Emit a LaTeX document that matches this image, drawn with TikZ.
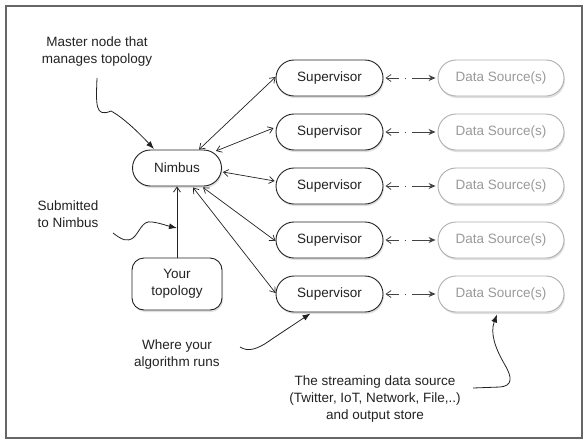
\documentclass[tikz,border=0pt]{standalone}
\usepackage{fontspec}
\setmainfont{Liberation Sans}
\usetikzlibrary{arrows.meta,calc,shadows}
\definecolor{ink}{HTML}{222222}
\definecolor{faint}{HTML}{9A9A9A}
\definecolor{faintline}{HTML}{AEAEAE}
\tikzset{
  txt/.style={font=\fontsize{13.5}{17}\selectfont, text=ink, align=center},
  shad/.style={drop shadow={shadow xshift=1pt, shadow yshift=-2pt, fill=black!30, opacity=0.4}},
  pill/.style={txt, draw=ink, line width=0.9pt, fill=white, rounded corners=18pt,
    minimum height=36pt, inner sep=0pt, shad},
  supbox/.style={pill, minimum width=107pt},
  dsbox/.style={pill, draw=faintline, text=faint, minimum width=126pt},
  topobox/.style={txt, draw=ink, line width=0.9pt, fill=white, rounded corners=12pt,
    minimum width=90pt, minimum height=52pt, inner sep=0pt, shad},
  link/.style={draw=ink, line width=0.7pt, {Straight Barb[length=5pt,width=7pt]}-{Straight Barb[length=5pt,width=7pt]}},
  dlink/.style={draw=ink!85, line width=0.8pt, shorten <=2pt, shorten >=2pt,
    dash pattern=on 12pt off 6pt on 1.5pt off 5.5pt on 40pt,
    {Straight Barb[length=5pt,width=7pt]}-{Stealth[length=7pt,width=6pt]}},
  note/.style={draw=ink, line width=0.8pt, -{Latex[length=8pt,width=6pt]}},
}
\begin{document}
\begin{tikzpicture}[x=1pt,y=-1pt]
\useasboundingbox (0,0) rectangle (588,442);
\draw[draw=black!60, line width=1.6pt] (6,6) rectangle (582,438);

\node[pill, minimum width=89pt] (nim) at (177,168) {Nimbus};
\node[topobox] (top) at (177,284) {Your\\topology};

\foreach \i/\y in {1/78,2/132,3/186,4/240,5/294}{
  \node[supbox] (s\i) at (329.5,\y) {Supervisor};
  \node[dsbox] (d\i) at (501,\y) {Data Source(s)};
  \draw[dlink] (s\i.east) -- (d\i.west);
}

\draw[link] ($(nim.north)+(22,0)$) -- ($(s1.west)+(0,-1)$);
\draw[link] ($(nim.center)+(39,-17)$) -- ($(s2.west)+(-2,-4)$);
\draw[link] ($(nim.east)+(1,4)$) -- ($(s3.west)+(-1,-5)$);
\draw[link] ($(nim.south)+(26,1)$) -- ($(s4.west)+(0,1)$);
\draw[link] ($(nim.south)+(16,1)$) -- ($(s5.west)+(0,-1)$);

\draw[draw=ink, line width=0.8pt, -{Straight Barb[length=5pt,width=7pt]}] (top.north) -- (nim.south);

\node[txt] (lmaster) at (97,52) {Master node that\\manages topology};
\node[txt] (lsub) at (68,214) {Submitted\\to Nimbus};
\node[txt] (lalg) at (177,355) {Where your\\algorithm runs};
\node[txt] (lstream) at (375,399) {The streaming data source\\(Twitter, IoT, Network, File,..)\\and output store};

\coordinate (mstart) at (97,78);
\coordinate (mend) at (154,149);
\draw[note] (mstart) .. controls (96,104) and (95,118) .. (111,111) .. controls (124,118) and (140,134) .. (mend);

\coordinate (sstart) at (113,233);
\coordinate (send) at (177,228);
\draw[note] (sstart) .. controls (122,240) and (127,242) .. (133,238) .. controls (140,232) and (142,220) .. (152,222) .. controls (160,223) and (168,226) .. (send);

\coordinate (astart) at (240,347);
\draw[note] (astart) .. controls (248,352) and (257,350) .. (272,339) -- ($(s5.south)+(-19,1)$);

\coordinate (tstart) at (473,388);
\draw[note] (tstart) -- (500,387) .. controls (513,386) and (512,377) .. (505,365) .. controls (495,348) and (490,333) .. ($(d5.south)+(-4,2)$);
\end{tikzpicture}
\end{document}
